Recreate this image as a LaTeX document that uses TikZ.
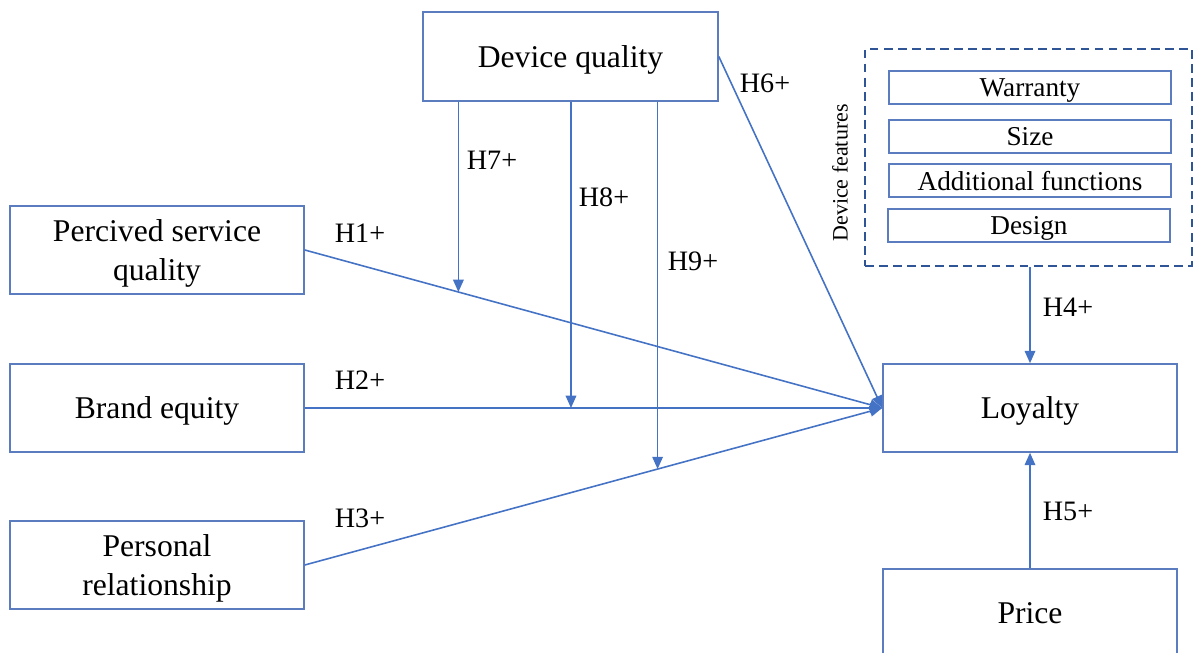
\documentclass[tikz,border=0pt]{standalone}
\usepackage{fontspec}
\setmainfont{Liberation Serif}
\usetikzlibrary{positioning, arrows.meta}

\definecolor{lineblue}{HTML}{4472C4}
\definecolor{boxblue}{HTML}{5B7DBF}
\definecolor{dashblue}{HTML}{2F5597}

\begin{document}
\begin{tikzpicture}[
    construct/.style={draw=boxblue, line width=0.9pt, minimum width=5.88cm, minimum height=1.76cm, align=center, text depth=0pt, font=\fontsize{18}{22}\selectfont},
    feature/.style={draw=boxblue, line width=0.9pt, minimum width=5.64cm, minimum height=0.66cm, inner sep=0pt, text depth=0pt, font=\fontsize{15.5}{17}\selectfont},
    hyp/.style={font=\fontsize{16}{18}\selectfont},
    arr/.style={draw=lineblue, line width=0.9pt, -{Triangle[length=7pt,width=6pt]}}
]
    \useasboundingbox (0,0) rectangle (23.88,13.06);
    \clip (0,0) rectangle (23.88,13.06);

    \node[construct, minimum width=5.9cm, minimum height=1.78cm] (dq) at (11.41,11.93) {Device quality};
    \node[construct] (psq) at (3.14,8.06) {Percived service\\quality};
    \node[construct] (be) at (3.14,4.90) {Brand equity};
    \node[construct] (pr) at (3.14,1.76) {Personal\\relationship};
    \node[construct] (loy) at (20.6,4.90) {Loyalty};
    \node[construct] (price) at (20.6,0.80) {Price};

    % device features
    \node[draw=dashblue, dash pattern=on 5pt off 3pt, line width=0.9pt, minimum width=6.54cm, minimum height=4.34cm] (df) at (20.57,9.91) {};
    \node[feature] (war) at (20.6,11.31) {Warranty};
    \node[feature] (size) at (20.6,10.33) {Size};
    \node[feature] (add) at (20.6,9.45) {Additional functions};
    \node[feature] (des) at (20.58,8.55) {Design};
    \node[rotate=90, font=\fontsize{12.5}{14}\selectfont] (dflab) at (16.8,9.6) {Device features};

    % main paths
    \draw[arr] (psq.east) -- (loy.west) coordinate[pos=0.266] (m7);
    \draw[arr] (be.east) -- (loy.west) coordinate[pos=0.461] (m8);
    \draw[arr] (pr.east) -- (loy.west) coordinate[pos=0.611] (m9);
    \draw[arr] (dq.east) -- (loy.west);
    \draw[arr] (loy.north |- df.south) -- (loy.north);
    \draw[arr] (price.north) -- (loy.south);

    % moderation
    \draw[arr] (m7 |- dq.south) -- (m7);
    \draw[arr] (m8 |- dq.south) -- (m8);
    \draw[arr] (m9 |- dq.south) -- (m9);

    \node[hyp] (h1) at (7.2,8.4) {H1+};
    \node[hyp] (h2) at (7.2,5.46) {H2+};
    \node[hyp] (h3) at (7.2,2.7) {H3+};
    \node[hyp] (h4) at (21.36,6.92) {H4+};
    \node[hyp] (h5) at (21.36,2.84) {H5+};
    \node[hyp] (h6) at (15.3,11.4) {H6+};
    \node[hyp] (h7) at (9.84,9.86) {H7+};
    \node[hyp] (h8) at (12.08,9.12) {H8+};
    \node[hyp] (h9) at (13.86,7.84) {H9+};

\end{tikzpicture}
\end{document}
